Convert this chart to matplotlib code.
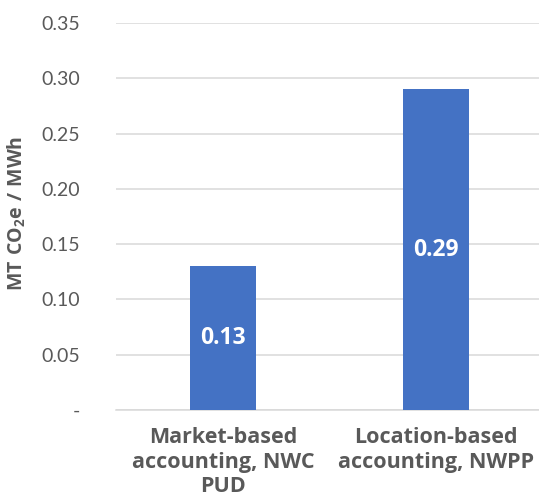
import matplotlib
matplotlib.use("Agg")
import matplotlib.pyplot as plt
from matplotlib.ticker import FixedLocator, FixedFormatter

categories = ["Market-based\naccounting, NWC\nPUD", "Location-based\naccounting, NWPP"]
values = [0.13, 0.29]
tick_values = [0.0, 0.05, 0.10, 0.15, 0.20, 0.25, 0.30, 0.35]
tick_labels = ["-", "0.05", "0.10", "0.15", "0.20", "0.25", "0.30", "0.35"]

BAR_COLOR = "#4472C4"
TEXT_GREY = "#595959"
GRID_GREY = "#D9D9D9"
BOLD_FONT = ["Open Sans", "DejaVu Sans"]

plt.rcParams["font.family"] = ["Lato", "DejaVu Sans"]
plt.rcParams["mathtext.fontset"] = "custom"
plt.rcParams["mathtext.rm"] = "Open Sans:bold"
plt.rcParams["mathtext.bf"] = "Open Sans:bold"

fig = plt.figure(figsize=(5.39, 4.98), dpi=100)
ax = fig.add_axes([116 / 539, 88 / 498, 1 - 116 / 539, (410 - 23) / 498])

x = list(range(len(categories)))
bars = ax.bar(x, values, width=0.31, color=BAR_COLOR, zorder=3)

for xi, v in zip(x, values):
    ax.text(xi, v / 2, f"{v:.2f}", ha="center", va="center", color="white",
            fontsize=16.5, fontweight="bold", family=BOLD_FONT, zorder=4)

ax.set_xlim(-0.502, 1.484)
ax.set_ylim(0, 0.35)
ax.yaxis.set_major_locator(FixedLocator(tick_values))
ax.yaxis.set_major_formatter(FixedFormatter(tick_labels))
ax.set_xticks(x)
ax.set_xticklabels(categories, fontsize=15.5, fontweight="bold", color=TEXT_GREY,
                   family=BOLD_FONT, linespacing=1.24)
ax.tick_params(axis="y", length=0, pad=26, labelsize=14, labelcolor=TEXT_GREY)
ax.tick_params(axis="x", length=0, pad=12)

ax.grid(axis="y", color=GRID_GREY, linewidth=1.1, zorder=0)
for side in ["top", "right", "left"]:
    ax.spines[side].set_visible(False)
ax.spines["bottom"].set_color(GRID_GREY)
ax.spines["bottom"].set_linewidth(1.1)

fig.text(17 / 539, 1 - 213 / 498, r"$\mathbf{MT\ CO_2e\ /\ MWh}$", rotation=90,
         ha="center", va="center", fontsize=14, color=TEXT_GREY)

fig.savefig("out.png", dpi=100)
